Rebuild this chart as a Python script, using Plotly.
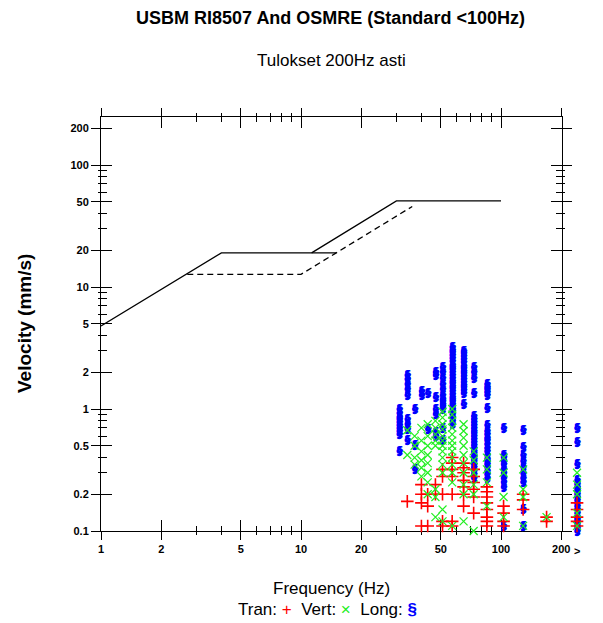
import math
import plotly.graph_objects as go

# ---------------- data ----------------
# limit curves (Hz, mm/s)
usbm_f = [1, 4, 15]
usbm_v = [4.79, 19.05, 19.05]
osmre_f = [11.3, 30, 100]
osmre_v = [19.05, 50.8, 50.8]
plaster_f = [2.7, 10, 36]
plaster_v = [12.7, 12.7, 45.7]

# measured peaks, grouped by frequency column (240 = ">200 Hz")
long_cols = [31, 34, 37, 40, 43, 47, 51, 57, 65, 73, 85, 103, 129, 240]
long_vals = [
    [0.45, 0.62, 0.66, 0.7, 0.74, 0.78, 0.82, 0.85, 0.92, 1.0],
    [0.55, 0.68, 0.75, 0.82, 1.3, 1.45, 1.6, 1.75, 1.9],
    [0.32, 0.5, 1.0],
    [1.4, 1.3],
    [1.35, 0.68],
    [0.6, 0.65, 0.9, 1.0, 1.25, 1.9, 2.0],
    [0.55, 0.7, 1.0, 1.05, 1.1, 1.15, 1.2, 1.3, 1.45, 1.6, 1.8, 2.0, 2.2],
    [0.75, 0.8, 0.85, 0.9, 0.95, 1.0, 1.05, 1.1, 1.15, 1.2, 1.25, 1.32, 1.4, 1.48,
     1.55, 1.62, 1.7, 1.8, 1.9, 2.0, 2.1, 2.2, 2.3, 2.45, 2.6, 2.75, 2.9, 3.05, 3.2],
    [1.1, 1.35, 1.42, 1.5, 1.58, 1.66, 1.75, 1.85, 1.95, 2.05, 2.15, 2.25, 2.4,
     2.55, 2.7, 2.85, 3.0],
    [0.27, 0.29, 0.31, 0.33, 0.35, 0.37, 0.39, 0.41, 0.43, 0.45, 0.48, 0.5, 0.53,
     0.56, 0.6, 0.63, 0.66, 0.7, 0.74, 0.78, 0.82, 0.88, 1.35, 1.8, 2.0, 2.2],
    [0.27, 0.29, 0.31, 0.33, 0.35, 0.37, 0.39, 0.42, 0.45, 0.48, 0.51, 0.55,
     0.58, 0.62, 0.66, 0.73, 1.02, 1.3, 1.38, 1.45, 1.52, 1.6],
    [0.11, 0.23, 0.25, 0.27, 0.3, 0.32, 0.35, 0.37, 0.4, 0.42, 0.7],
    [0.11, 0.15, 0.25, 0.27, 0.3, 0.33, 0.37, 0.42, 0.49, 0.67],
    [0.1, 0.105, 0.11, 0.115, 0.12, 0.125, 0.13, 0.14, 0.15, 0.16, 0.17, 0.18,
     0.19, 0.2, 0.21, 0.22, 0.23, 0.24, 0.26, 0.35, 0.53, 0.7],
]

vert_cols = [34, 37, 40, 43, 47, 51, 57, 65, 73, 85, 103, 129, 169, 240]
vert_vals = [
    [0.42, 0.67],
    [0.35, 0.4, 0.5, 0.6],
    [0.28, 0.33, 0.38, 0.45, 0.55, 0.7],
    [0.2, 0.25, 0.3, 0.36, 0.42, 0.5, 0.6, 0.75],
    [0.13, 0.19, 0.22, 0.5, 0.55, 0.62, 0.7, 0.8],
    [0.12, 0.15, 0.3, 0.35, 0.4, 0.45, 0.5, 0.55, 0.6, 0.68, 0.75, 0.85, 0.95],
    [0.11, 0.25, 0.3, 0.35, 0.4, 0.45, 0.5, 0.55, 0.62, 0.7, 0.8, 0.9, 1.0],
    [0.12, 0.2, 0.24, 0.3, 0.36, 0.42, 0.5, 0.58, 0.66, 0.75],
    [0.1, 0.2, 0.24, 0.3, 0.38, 0.45],
    [0.16, 0.25, 0.32, 0.4],
    [0.13, 0.19, 0.3, 0.4],
    [0.11, 0.19, 0.22, 0.32],
    [0.13],
    [0.11, 0.14, 0.2, 0.24, 0.3],
]

tran_cols = [34, 40, 43, 47, 51, 57, 65, 73, 85, 103, 129, 169, 240]
tran_vals = [
    [0.175],
    [0.11, 0.17, 0.2, 0.24],
    [0.11, 0.16, 0.2],
    [0.2, 0.24],
    [0.11, 0.12, 0.2, 0.28, 0.32],
    [0.11, 0.12, 0.2, 0.28, 0.32, 0.36, 0.4],
    [0.16, 0.2, 0.23, 0.26, 0.3, 0.33, 0.36],
    [0.14, 0.19, 0.22, 0.25, 0.28, 0.32],
    [0.11, 0.12, 0.13, 0.15, 0.17, 0.19, 0.21, 0.23],
    [0.11, 0.12, 0.14, 0.16],
    [0.15, 0.18, 0.2],
    [0.12, 0.13],
    [0.11, 0.12, 0.13, 0.15, 0.17],
]

x_major = [1, 2, 5, 10, 20, 50, 100, 200]
x_major_text = ["1", "2", "5", "10", "20", "50", "100", "200"]
x_minor = [3, 4, 6, 7, 8, 9, 30, 40, 60, 70, 80, 90]
y_major = [0.1, 0.2, 0.5, 1, 2, 5, 10, 20, 50, 100, 200]
y_major_text = ["0.1", "0.2", "0.5", "1", "2", "5", "10", "20", "50", "100", "200"]
y_minor = [0.3, 0.4, 0.6, 0.7, 0.8, 0.9, 3, 4, 6, 7, 8, 9, 30, 40, 60, 70, 80, 90]


def flatten(cols, vals):
    fx, fy = [], []
    for c, vs in zip(cols, vals):
        for v in vs:
            fx.append(c)
            fy.append(v)
    return fx, fy


long_f, long_v = flatten(long_cols, long_vals)
vert_f, vert_v = flatten(vert_cols, vert_vals)
tran_f, tran_v = flatten(tran_cols, tran_vals)

FONT = "Liberation Sans, Arial, sans-serif"

# geometry: plot area 101..590 px wide, framed axes end at 200 Hz (562 px)
PW = 489.0
FRAME = 461.0 / PW
xr = [0, 2.305]
xr_data = [0, 2.305 * PW / 461.0]
yr = [-1, -1 + 414 / 122]

fig = go.Figure()

line_style = dict(color="black", width=1.3)
fig.add_trace(go.Scatter(x=usbm_f, y=usbm_v, mode="lines", line=line_style,
                         showlegend=False, hoverinfo="skip"))
fig.add_trace(go.Scatter(x=osmre_f, y=osmre_v, mode="lines", line=line_style,
                         showlegend=False, hoverinfo="skip"))
fig.add_trace(go.Scatter(x=plaster_f, y=plaster_v, mode="lines",
                         line=dict(color="black", width=1.3, dash="6px,4px"),
                         showlegend=False, hoverinfo="skip"))
# helper trace so the overlaid tick axes are drawn
fig.add_trace(go.Scatter(x=[None], y=[None], xaxis="x2", yaxis="y2",
                         showlegend=False, hoverinfo="skip"))

fig.add_trace(go.Scatter(x=long_f, y=long_v, mode="text", text=["§"] * len(long_f),
                         textfont=dict(color="#0000ff", size=11, family="DejaVu Sans",
                                       weight="bold",
                                       shadow="1px 0px 0px #0000ff, 0px 1px 0px #0000ff"),
                         xaxis="x3", yaxis="y3",
                         cliponaxis=False, showlegend=False, name="Long"))
fig.add_trace(go.Scatter(x=tran_f, y=tran_v, mode="markers",
                         marker=dict(symbol="cross-thin", size=9,
                                     line=dict(color="#ff0000", width=1.6)),
                         xaxis="x3", yaxis="y3",
                         cliponaxis=False, showlegend=False, name="Tran"))
fig.add_trace(go.Scatter(x=vert_f, y=vert_v, mode="markers",
                         marker=dict(symbol="x-thin", size=8,
                                     line=dict(color="#22ee22", width=1.2)),
                         xaxis="x3", yaxis="y3",
                         cliponaxis=False, showlegend=False, name="Vert"))

tickfont = dict(family=FONT, size=11, color="black", weight="bold")

fig.update_layout(
    width=603, height=623,
    margin=dict(l=101, r=13, t=117, b=92),
    paper_bgcolor="white", plot_bgcolor="rgba(0,0,0,0)",
    showlegend=False,
    xaxis=dict(type="log", range=xr, domain=[0, FRAME], anchor="y", automargin=False,
               showgrid=False, zeroline=False,
               showline=True, linecolor="black", linewidth=1, mirror="allticks",
               tickmode="array", tickvals=x_major, ticktext=x_major_text,
               ticks="outside", ticklen=8, tickwidth=1, tickcolor="black",
               tickfont=tickfont,
               minor=dict(tickmode="array", tickvals=x_minor, ticks="outside",
                          ticklen=3, tickwidth=1, tickcolor="black", showgrid=False)),
    yaxis=dict(type="log", range=yr, domain=[0, 1], anchor="x", automargin=False,
               showgrid=False, zeroline=False,
               showline=True, linecolor="black", linewidth=1, mirror="allticks",
               tickmode="array", tickvals=y_major, ticktext=y_major_text,
               ticks="outside", ticklen=9, tickwidth=1, tickcolor="black",
               tickfont=tickfont,
               minor=dict(tickmode="array", tickvals=y_minor, ticks="outside",
                          ticklen=2, tickwidth=1, tickcolor="black", showgrid=False)),
    xaxis2=dict(type="log", range=xr, overlaying="x", anchor="y2", side="bottom",
                automargin=False,
                showgrid=False, zeroline=False, showline=True, linecolor="black",
                mirror="allticks", showticklabels=False,
                tickmode="array", tickvals=x_major,
                ticks="inside", ticklen=11, tickwidth=1, tickcolor="black",
                minor=dict(tickmode="array", tickvals=x_minor, ticks="inside",
                           ticklen=5, tickwidth=1, tickcolor="black", showgrid=False)),
    yaxis2=dict(type="log", range=yr, overlaying="y", anchor="x2", side="left",
                automargin=False,
                showgrid=False, zeroline=False, showline=True, linecolor="black",
                mirror="allticks", showticklabels=False,
                tickmode="array", tickvals=y_major,
                ticks="inside", ticklen=11, tickwidth=1, tickcolor="black",
                minor=dict(tickmode="array", tickvals=y_minor, ticks="inside",
                           ticklen=6, tickwidth=1, tickcolor="black", showgrid=False)),
    xaxis3=dict(type="log", range=xr_data, domain=[0, 1], anchor="y3", visible=False,
                automargin=False, showgrid=False, zeroline=False),
    yaxis3=dict(type="log", range=yr, domain=[0, 1], anchor="x3", visible=False,
                automargin=False, showgrid=False, zeroline=False),
)


def px_x(px):
    return (px - 101) / PW


def px_y(py):
    return (531 - py) / 414.0


annos = [
    dict(text="<b>USBM RI8507 And OSMRE (Standard &lt;100Hz)</b>", x=px_x(330), y=px_y(18),
         font=dict(family=FONT, size=18, color="black")),
    dict(text="Tulokset 200Hz asti", x=px_x(331), y=px_y(60),
         font=dict(family=FONT, size=17, color="black")),
    dict(text="Frequency (Hz)", x=px_x(331), y=px_y(588),
         font=dict(family=FONT, size=17, color="black")),
    dict(text="Tran: <span style='color:#ff0000'>+</span>  Vert: <span style='color:#22ee22'>×</span>  Long: <span style='color:#0000ff'><b>§</b></span>",
         x=px_x(327), y=px_y(609), font=dict(family=FONT, size=17, color="black")),
    dict(text="<b>Velocity (mm/s)</b>", x=px_x(24), y=px_y(324), textangle=-90,
         font=dict(family=FONT, size=19, color="black")),
]
for a in annos:
    fig.add_annotation(xref="paper", yref="paper", showarrow=False,
                       xanchor="center", yanchor="middle", **a)
fig.add_annotation(xref="x3", yref="paper", x=math.log10(240), y=px_y(551),
                   text="<b>&gt;</b>", showarrow=False, xanchor="center", yanchor="middle",
                   font=dict(family=FONT, size=11, color="black"))

fig.write_html("out.html")
